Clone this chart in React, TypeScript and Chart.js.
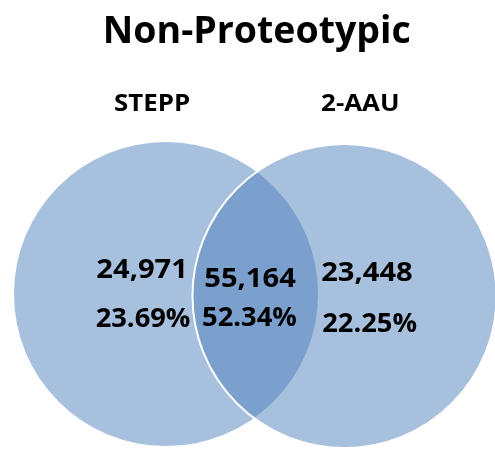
import React, { useEffect, useRef } from "react";
import { Chart, registerables, BubbleController } from "chart.js";

Chart.register(...registerables);

// Bubble controller whose circles do not pad the chart area
class VennController extends (BubbleController as any) {
  static id = "venn";
  static defaults = (BubbleController as any).defaults;
  static overrides = (BubbleController as any).overrides;
  getMaxOverflow() {
    return 0;
  }
}
Chart.register(VennController as any);

// ---- data ----
const chartTitle = "Non-Proteotypic";
const setNames = ["STEPP", "2-AAU"];
const regionNames = ["STEPP only", "Both", "2-AAU only"];
const regionCounts = [24971, 55164, 23448];
const regionPercents = [23.69, 52.34, 22.25];

// ---- layout (in circle-radius units) ----
const CIRCLE_X = [-0.587, 0.587];
const CIRCLE_Y = [0.0066, -0.0066];
const RADIUS = 1;
const X_MIN = -1.679;
const X_MAX = 1.577;
const Y_MIN = -1.013;
const Y_MAX = 1.941;

const TITLE_POS = { x: 0.01, y: 1.656 };
const SET_LABEL_POS = [
  { x: -0.679, y: 1.2125 },
  { x: 0.691, y: 1.2125 },
];
const COUNT_POS = [
  { x: -0.744, y: 0.11 },
  { x: -0.0345, y: 0.0546 },
  { x: 0.735, y: 0.092 },
];
const PCT_POS = [
  { x: -0.738, y: -0.2105 },
  { x: -0.0378, y: -0.202 },
  { x: 0.752, y: -0.243 },
];

const FONT_FAMILY = '"Open Sans", sans-serif';
const FILL = "rgba(79,129,189,0.5)";

function drawText(
  ctx: CanvasRenderingContext2D,
  text: string,
  px: number,
  py: number,
  size: number,
  sx: number
) {
  ctx.save();
  ctx.font = `bold ${size}px ${FONT_FAMILY}`;
  ctx.fillStyle = "#000";
  ctx.textAlign = "center";
  ctx.textBaseline = "alphabetic";
  ctx.translate(px, py);
  ctx.scale(sx, 1);
  ctx.fillText(text, 0, 0);
  ctx.restore();
}

const vennText = {
  id: "vennText",
  afterDatasetsDraw(chart: any) {
    const { ctx, scales } = chart;
    const X = (v: number) => scales.x.getPixelForValue(v);
    const Y = (v: number) => scales.y.getPixelForValue(v);
    drawText(ctx, chartTitle, X(TITLE_POS.x), Y(TITLE_POS.y), 37.5, 1.0);
    setNames.forEach((n, i) =>
      drawText(ctx, n, X(SET_LABEL_POS[i].x), Y(SET_LABEL_POS[i].y), 22.5, 1.15)
    );
    regionNames.forEach((_, i) => {
      drawText(ctx, regionCounts[i].toLocaleString("en-US"), X(COUNT_POS[i].x), Y(COUNT_POS[i].y), 26, 1.12);
      drawText(ctx, regionPercents[i].toFixed(2) + "%", X(PCT_POS[i].x), Y(PCT_POS[i].y), 26, 1.05);
    });
  },
};

export default function App() {
  const ref = useRef<HTMLCanvasElement | null>(null);
  useEffect(() => {
    if (!ref.current) return;
    const points = setNames.map((_, i) => ({ x: CIRCLE_X[i], y: CIRCLE_Y[i], r: 0 }));
    const chart = new Chart(ref.current, {
      type: "venn" as any,
      data: {
        datasets: [
          {
            label: "Sets",
            data: points,
            backgroundColor: FILL,
            borderColor: "#ffffff",
            borderWidth: [0, 2],
            hoverRadius: 0,
            clip: false,
          } as any,
        ],
      },
      options: {
        responsive: false,
        animation: false,
        devicePixelRatio: 1,
        layout: { padding: 0 },
        events: [],
        scales: {
          x: { type: "linear", min: X_MIN, max: X_MAX, display: false },
          y: { type: "linear", min: Y_MIN, max: Y_MAX, display: false },
        },
        plugins: {
          legend: { display: false },
          tooltip: { enabled: false },
          title: { display: false },
        },
      } as any,
      plugins: [vennText],
    });
    // circle radius: RADIUS data units converted to pixels by the x scale
    const sx: any = chart.scales.x;
    const rPx = sx.getPixelForValue(RADIUS) - sx.getPixelForValue(0);
    points.forEach((p) => (p.r = rPx));
    chart.update("none");
    return () => chart.destroy();
  }, []);
  return (
    <div style={{ position: "absolute", left: 0, top: 0, width: 495, height: 449, background: "#fff" }}>
      <canvas ref={ref} width={495} height={449} style={{ display: "block" }} />
    </div>
  );
}
